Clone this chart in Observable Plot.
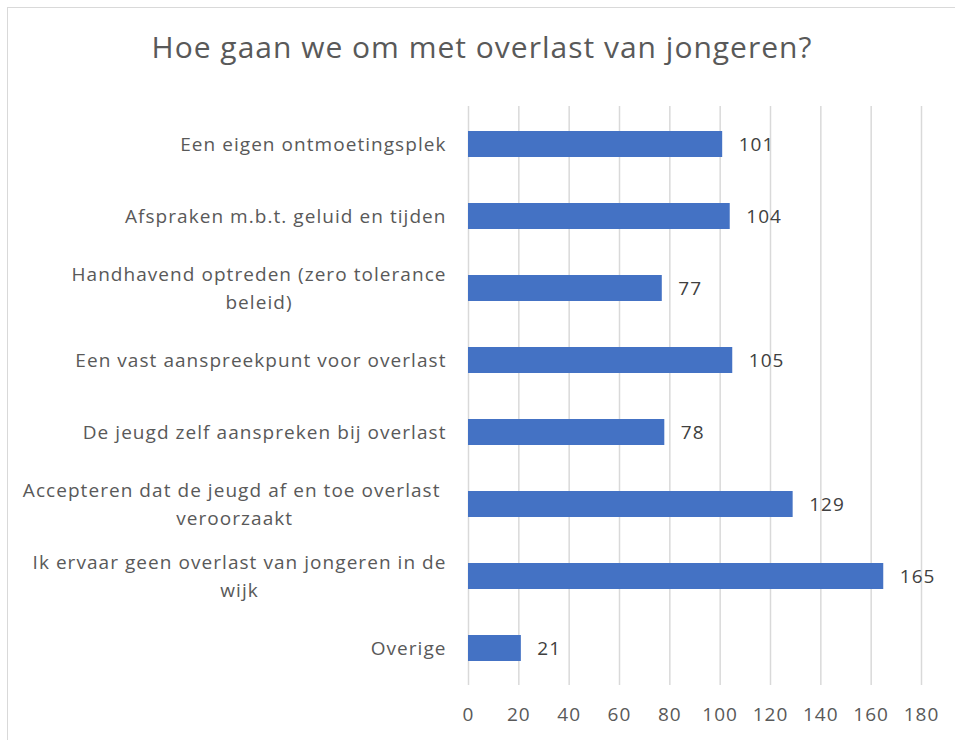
<!DOCTYPE html>
<html><head><meta charset="utf-8">
<script src="https://cdn.jsdelivr.net/npm/d3@7"></script>
<script src="https://cdn.jsdelivr.net/npm/@observablehq/plot@0.6"></script>
<style>
html,body{margin:0;padding:0;background:#fff;overflow:hidden;width:955px;height:740px}
#frame{position:absolute;left:7px;top:7px;width:1000px;height:1000px;border-left:1.5px solid #d9d9d9;border-top:1.5px solid #d9d9d9}
#title{position:absolute;left:0;top:32px;width:964px;text-align:center;font-family:"Open Sans",sans-serif;font-size:30px;line-height:30px;letter-spacing:1px;color:#595959}
#chart{position:absolute;left:0;top:90px}
#chart svg text{white-space:pre;letter-spacing:1.05px}
</style></head><body>
<div id="frame"></div>
<div id="title">Hoe gaan we om met overlast van jongeren?</div>
<div id="chart"></div>
<script>
const categories = [
  "Een eigen ontmoetingsplek",
  "Afspraken m.b.t. geluid en tijden",
  "Handhavend optreden (zero tolerance\nbeleid)",
  "Een vast aanspreekpunt voor overlast",
  "De jeugd zelf aanspreken bij overlast",
  "Accepteren dat de jeugd af en toe overlast \nveroorzaakt",
  "Ik ervaar geen overlast van jongeren in de\nwijk",
  "Overige"
];
const values = [101, 104, 77, 105, 78, 129, 165, 21];
const xTicks = [0, 20, 40, 60, 80, 100, 120, 140, 160, 180];

const data = categories.map((c, i) => ({category: c, value: values[i]}));

const FONT = '"Open Sans", sans-serif';
const FS = 19;
const LS = 1.05;
const ctx = document.createElement("canvas").getContext("2d");
ctx.font = `${FS}px ${FONT}`;
const measure = s => ctx.measureText(s).width + LS * s.length;

const labelMarks = [];
categories.forEach(c => {
  const lines = c.split("\n");
  const w = Math.max(...lines.map(measure));
  const center = 22 + w / 2;
  lines.forEach((line, i) => {
    labelMarks.push(Plot.text([c], {
      y: d => d,
      frameAnchor: "left",
      dx: -center,
      dy: (i - (lines.length - 1) / 2) * 28,
      text: () => line,
      textAnchor: "middle",
      fontSize: FS,
      fill: "#595959"
    }));
  });
});

const chart = Plot.plot({
  width: 955,
  height: 650,
  marginTop: 16,
  marginBottom: 55,
  marginLeft: 468,
  marginRight: 34,
  style: {fontFamily: FONT, background: "transparent"},
  x: {domain: [0, 180]},
  y: {domain: categories, paddingInner: 0.64, paddingOuter: 0.32, axis: null},
  marks: [
    Plot.gridX(xTicks, {stroke: "#d9d9d9", strokeOpacity: 1, strokeWidth: 1.5}),
    Plot.axisX(xTicks, {tickSize: 0, tickPadding: 22, fontSize: FS, fill: "#595959", label: null}),
    Plot.barX(data, {x: "value", y: "category", fill: "#4472C4"}),
    Plot.text(data, {x: "value", y: "category", text: d => String(d.value), dx: 16, textAnchor: "start", fontSize: FS, fill: "#404040"}),
    ...labelMarks
  ]
});
document.getElementById("chart").appendChild(chart);
</script>
</body></html>
